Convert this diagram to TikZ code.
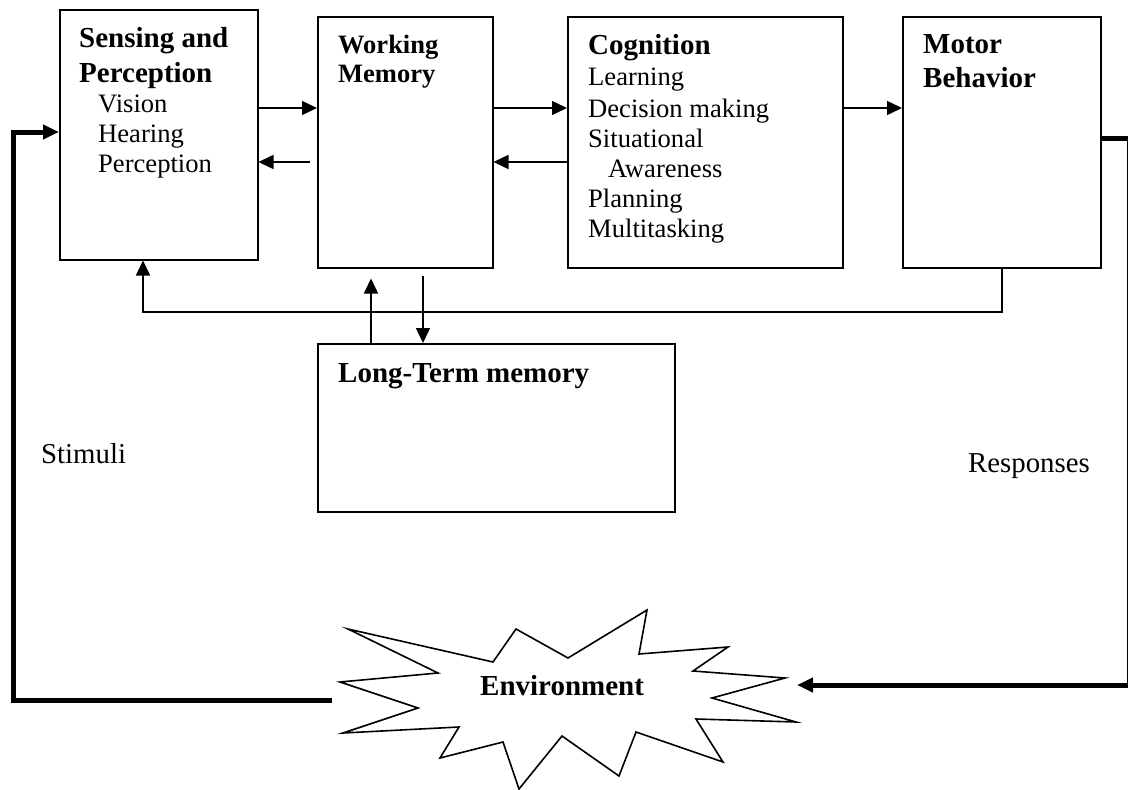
\documentclass[tikz,border=0pt]{standalone}
\usepackage{fontspec}
\setmainfont{Liberation Serif}
\usetikzlibrary{arrows.meta}

\begin{document}
\begin{tikzpicture}[x=1pt,y=-1pt,
  box/.style={draw, line width=1.5pt, inner sep=0pt, anchor=north west},
  txt/.style={anchor=base west, inner sep=0pt, font=\fontsize{26.6}{30}\selectfont},
  bigtxt/.style={anchor=base west, inner sep=0pt, font=\fontsize{28.8}{34}\selectfont},
  hdr/.style={anchor=base west, inner sep=0pt, font=\fontsize{29}{34}\selectfont\bfseries},
  hdrsmall/.style={anchor=base west, inner sep=0pt, font=\fontsize{26.5}{30}\selectfont\bfseries},
  arr/.style={line width=1.5pt, -{Triangle[length=15pt,width=14pt]}},
  heavyarr/.style={line width=5pt, line join=miter, -{Triangle[length=16pt,width=14pt]}},
  burst/.style={draw, line width=1.6pt, line join=miter, fill=white}
]
\useasboundingbox (0,0) rectangle (1128,790);

% --- processing stages ---
\node[box, minimum width=198pt, minimum height=250pt] (sp)  at (59,9)   {};
\node[box, minimum width=175pt, minimum height=251pt] (wm)  at (317,16) {};
\node[box, minimum width=275pt, minimum height=251pt] (cog) at (567,16) {};
\node[box, minimum width=198pt, minimum height=251pt] (mb)  at (902,16) {};
\node[box, minimum width=357pt, minimum height=168pt] (ltm) at (317,343) {};

% --- box texts ---
\node[hdr] (spA) at (79,47)  {Sensing and};
\node[hdr] (spB) at (79,82)  {Perception};
\node[txt] (spC) at (98,112) {Vision};
\node[txt] (spD) at (98,142) {Hearing};
\node[txt] (spE) at (98,172) {Perception};

\node[hdrsmall] (wmA) at (338,53) {Working};
\node[hdrsmall] (wmB) at (338,82) {Memory};

\node[hdr] (cogA) at (588,54)  {Cognition};
\node[txt] (cogB) at (588,85)  {Learning};
\node[txt] (cogC) at (588,117) {Decision making};
\node[txt] (cogD) at (588,147) {Situational};
\node[txt] (cogE) at (608,177) {Awareness};
\node[txt] (cogF) at (588,207) {Planning};
\node[txt] (cogG) at (588,237) {Multitasking};

\node[hdr] (mbA) at (923,53) {Motor};
\node[hdr] (mbB) at (923,87) {Behavior};

\node[hdr] (ltmA) at (338,382) {Long-Term memory};

\node[bigtxt] (stim) at (41,463)  {Stimuli};
\node[bigtxt] (resp) at (968,472) {Responses};

% --- environment starburst ---
\draw[burst] (348,629) -- (493,662) -- (516,629) -- (568,658) -- (647,610)
  -- (639,654) -- (728,647) -- (693,671) -- (785,678) -- (712,698)
  -- (796,722) -- (696,719) -- (723,762) -- (636,732) -- (619,776)
  -- (562,736) -- (519,789) -- (503,742) -- (440,758) -- (459,727)
  -- (343,733) -- (418,708) -- (340,682) -- (438,673) -- cycle;
\node[hdr] (env) at (480,695) {Environment};

% --- helper levels ---
\coordinate (upper) at (0,108);
\coordinate (lower) at (0,162);
\coordinate (fb)    at (143,312);
\coordinate (upx)   at (371,0);
\coordinate (dnx)   at (423,0);
\coordinate (wmgapA) at ([yshift=-10pt]wm.south);
\coordinate (wmgapB) at ([yshift=-7pt]wm.south);
\coordinate (wmback) at ([xshift=-7pt]wm.west);
\coordinate (envR) at (797,685);
\coordinate (envL) at (332,700);
\coordinate (rA) at (1129.5,138);
\coordinate (rB) at (1129.5,685);
\coordinate (lA) at (13,700);
\coordinate (lB) at (13,132);

% --- forward / backward flow ---
\draw[arr] (sp.east |- upper) -- (wm.west |- upper);
\draw[arr] (wmback |- lower) -- (sp.east |- lower);
\draw[arr] (wm.east |- upper) -- (cog.west |- upper);
\draw[arr] (cog.west |- lower) -- (wm.east |- lower);
\draw[arr] (cog.east |- upper) -- (mb.west |- upper);

% --- feedback from motor behavior ---
\draw[arr, line join=miter] (mb.south) |- (fb) -- (sp.south -| fb);

% --- working memory <-> long-term memory ---
\draw[arr] (ltm.north -| upx) -- (wmgapA -| upx);
\draw[arr] (wmgapB -| dnx) -- (ltm.north -| dnx);

% --- responses and stimuli ---
\draw[heavyarr] (mb.east |- rA) -- (rA) -- (rB) -- (envR);
\draw[heavyarr] (envL) -- (lA) -- (lB) -- (sp.west |- lB);
\end{tikzpicture}
\end{document}
